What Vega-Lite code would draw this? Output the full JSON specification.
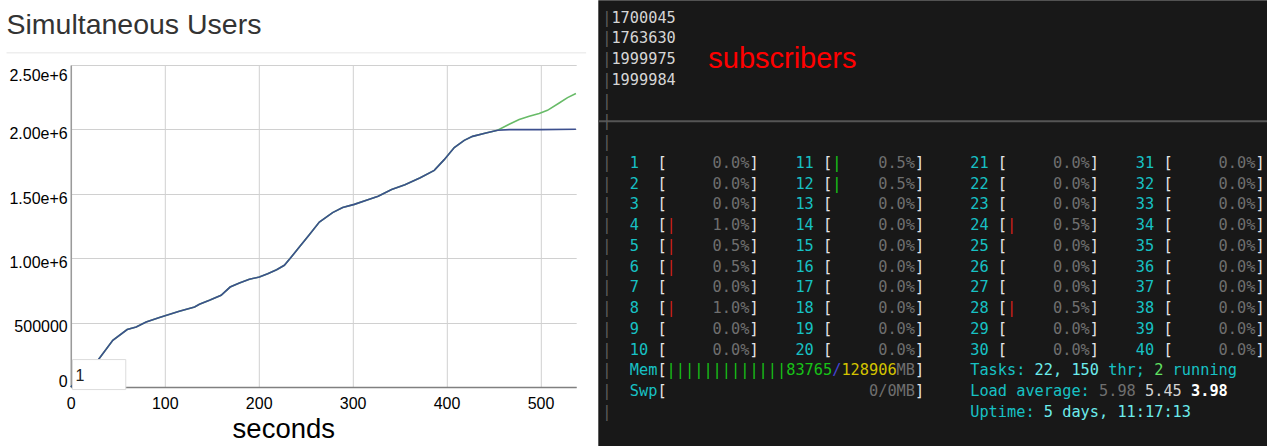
{
  "$schema": "https://vega.github.io/schema/vega-lite/v6.json",
  "background": "white",
  "padding": {"left": 4.8, "top": 0, "right": 0, "bottom": 0},
  "spacing": 9.5,
  "config": {
    "font": "Liberation Sans",
    "view": {"stroke": null},
    "axis": {"labelFont": "Liberation Sans", "titleFont": "Liberation Sans"}
  },
  "datasets": {
    "users": [
      {"t": 0, "users": 0, "series": "Series 2"},
      {"t": 29.5, "users": 213000, "series": "Series 2"},
      {"t": 44.7, "users": 363000, "series": "Series 2"},
      {"t": 60, "users": 446000, "series": "Series 2"},
      {"t": 69.6, "users": 466000, "series": "Series 2"},
      {"t": 80.2, "users": 505000, "series": "Series 2"},
      {"t": 94.4, "users": 539000, "series": "Series 2"},
      {"t": 115.5, "users": 588000, "series": "Series 2"},
      {"t": 131.8, "users": 621000, "series": "Series 2"},
      {"t": 136.9, "users": 642000, "series": "Series 2"},
      {"t": 147.6, "users": 673000, "series": "Series 2"},
      {"t": 160, "users": 712000, "series": "Series 2"},
      {"t": 169.6, "users": 776000, "series": "Series 2"},
      {"t": 179.5, "users": 807000, "series": "Series 2"},
      {"t": 190.1, "users": 836000, "series": "Series 2"},
      {"t": 200.7, "users": 854000, "series": "Series 2"},
      {"t": 209.6, "users": 880000, "series": "Series 2"},
      {"t": 219.1, "users": 911000, "series": "Series 2"},
      {"t": 227.3, "users": 945000, "series": "Series 2"},
      {"t": 233.4, "users": 997000, "series": "Series 2"},
      {"t": 243.3, "users": 1087000, "series": "Series 2"},
      {"t": 253.9, "users": 1183000, "series": "Series 2"},
      {"t": 264.6, "users": 1281000, "series": "Series 2"},
      {"t": 278.7, "users": 1354000, "series": "Series 2"},
      {"t": 289.4, "users": 1393000, "series": "Series 2"},
      {"t": 301.8, "users": 1418000, "series": "Series 2"},
      {"t": 317.8, "users": 1457000, "series": "Series 2"},
      {"t": 327.2, "users": 1481000, "series": "Series 2"},
      {"t": 341.5, "users": 1533000, "series": "Series 2"},
      {"t": 355.7, "users": 1571000, "series": "Series 2"},
      {"t": 372, "users": 1624000, "series": "Series 2"},
      {"t": 386.9, "users": 1682000, "series": "Series 2"},
      {"t": 397.5, "users": 1765000, "series": "Series 2"},
      {"t": 408.2, "users": 1859000, "series": "Series 2"},
      {"t": 418.8, "users": 1915000, "series": "Series 2"},
      {"t": 427.7, "users": 1946000, "series": "Series 2"},
      {"t": 441.9, "users": 1972000, "series": "Series 2"},
      {"t": 454.3, "users": 1993000, "series": "Series 2"},
      {"t": 466.7, "users": 2040000, "series": "Series 2"},
      {"t": 477.3, "users": 2076000, "series": "Series 2"},
      {"t": 488, "users": 2102000, "series": "Series 2"},
      {"t": 498.6, "users": 2123000, "series": "Series 2"},
      {"t": 507.4, "users": 2148000, "series": "Series 2"},
      {"t": 519.9, "users": 2205000, "series": "Series 2"},
      {"t": 528.8, "users": 2247000, "series": "Series 2"},
      {"t": 537.7, "users": 2278000, "series": "Series 2"},
      {"t": 0, "users": 0, "series": "Series 1"},
      {"t": 29.5, "users": 213000, "series": "Series 1"},
      {"t": 44.7, "users": 363000, "series": "Series 1"},
      {"t": 60, "users": 446000, "series": "Series 1"},
      {"t": 69.6, "users": 466000, "series": "Series 1"},
      {"t": 80.2, "users": 505000, "series": "Series 1"},
      {"t": 94.4, "users": 539000, "series": "Series 1"},
      {"t": 115.5, "users": 588000, "series": "Series 1"},
      {"t": 131.8, "users": 621000, "series": "Series 1"},
      {"t": 136.9, "users": 642000, "series": "Series 1"},
      {"t": 147.6, "users": 673000, "series": "Series 1"},
      {"t": 160, "users": 712000, "series": "Series 1"},
      {"t": 169.6, "users": 776000, "series": "Series 1"},
      {"t": 179.5, "users": 807000, "series": "Series 1"},
      {"t": 190.1, "users": 836000, "series": "Series 1"},
      {"t": 200.7, "users": 854000, "series": "Series 1"},
      {"t": 209.6, "users": 880000, "series": "Series 1"},
      {"t": 219.1, "users": 911000, "series": "Series 1"},
      {"t": 227.3, "users": 945000, "series": "Series 1"},
      {"t": 233.4, "users": 997000, "series": "Series 1"},
      {"t": 243.3, "users": 1087000, "series": "Series 1"},
      {"t": 253.9, "users": 1183000, "series": "Series 1"},
      {"t": 264.6, "users": 1281000, "series": "Series 1"},
      {"t": 278.7, "users": 1354000, "series": "Series 1"},
      {"t": 289.4, "users": 1393000, "series": "Series 1"},
      {"t": 301.8, "users": 1418000, "series": "Series 1"},
      {"t": 317.8, "users": 1457000, "series": "Series 1"},
      {"t": 327.2, "users": 1481000, "series": "Series 1"},
      {"t": 341.5, "users": 1533000, "series": "Series 1"},
      {"t": 355.7, "users": 1571000, "series": "Series 1"},
      {"t": 372, "users": 1624000, "series": "Series 1"},
      {"t": 386.9, "users": 1682000, "series": "Series 1"},
      {"t": 397.5, "users": 1765000, "series": "Series 1"},
      {"t": 408.2, "users": 1859000, "series": "Series 1"},
      {"t": 418.8, "users": 1915000, "series": "Series 1"},
      {"t": 427.7, "users": 1946000, "series": "Series 1"},
      {"t": 441.9, "users": 1972000, "series": "Series 1"},
      {"t": 454.3, "users": 1993000, "series": "Series 1"},
      {"t": 466.7, "users": 1998000, "series": "Series 1"},
      {"t": 500, "users": 1998000, "series": "Series 1"},
      {"t": 537.7, "users": 2001000, "series": "Series 1"}
    ],
    "cpus": [
      {"cpu": "1", "line": 7, "col": 0, "pct": "0.0%"},
      {"cpu": "2", "line": 8, "col": 0, "pct": "0.0%"},
      {"cpu": "3", "line": 9, "col": 0, "pct": "0.0%"},
      {"cpu": "4", "line": 10, "col": 0, "pct": "1.0%", "bar": "red"},
      {"cpu": "5", "line": 11, "col": 0, "pct": "0.5%", "bar": "red"},
      {"cpu": "6", "line": 12, "col": 0, "pct": "0.5%", "bar": "red"},
      {"cpu": "7", "line": 13, "col": 0, "pct": "0.0%"},
      {"cpu": "8", "line": 14, "col": 0, "pct": "1.0%", "bar": "red"},
      {"cpu": "9", "line": 15, "col": 0, "pct": "0.0%"},
      {"cpu": "10", "line": 16, "col": 0, "pct": "0.0%"},
      {"cpu": "11", "line": 7, "col": 18, "pct": "0.5%", "bar": "green"},
      {"cpu": "12", "line": 8, "col": 18, "pct": "0.5%", "bar": "green"},
      {"cpu": "13", "line": 9, "col": 18, "pct": "0.0%"},
      {"cpu": "14", "line": 10, "col": 18, "pct": "0.0%"},
      {"cpu": "15", "line": 11, "col": 18, "pct": "0.0%"},
      {"cpu": "16", "line": 12, "col": 18, "pct": "0.0%"},
      {"cpu": "17", "line": 13, "col": 18, "pct": "0.0%"},
      {"cpu": "18", "line": 14, "col": 18, "pct": "0.0%"},
      {"cpu": "19", "line": 15, "col": 18, "pct": "0.0%"},
      {"cpu": "20", "line": 16, "col": 18, "pct": "0.0%"},
      {"cpu": "21", "line": 7, "col": 37, "pct": "0.0%"},
      {"cpu": "22", "line": 8, "col": 37, "pct": "0.0%"},
      {"cpu": "23", "line": 9, "col": 37, "pct": "0.0%"},
      {"cpu": "24", "line": 10, "col": 37, "pct": "0.5%", "bar": "red"},
      {"cpu": "25", "line": 11, "col": 37, "pct": "0.0%"},
      {"cpu": "26", "line": 12, "col": 37, "pct": "0.0%"},
      {"cpu": "27", "line": 13, "col": 37, "pct": "0.0%"},
      {"cpu": "28", "line": 14, "col": 37, "pct": "0.5%", "bar": "red"},
      {"cpu": "29", "line": 15, "col": 37, "pct": "0.0%"},
      {"cpu": "30", "line": 16, "col": 37, "pct": "0.0%"},
      {"cpu": "31", "line": 7, "col": 55, "pct": "0.0%"},
      {"cpu": "32", "line": 8, "col": 55, "pct": "0.0%"},
      {"cpu": "33", "line": 9, "col": 55, "pct": "0.0%"},
      {"cpu": "34", "line": 10, "col": 55, "pct": "0.0%"},
      {"cpu": "35", "line": 11, "col": 55, "pct": "0.0%"},
      {"cpu": "36", "line": 12, "col": 55, "pct": "0.0%"},
      {"cpu": "37", "line": 13, "col": 55, "pct": "0.0%"},
      {"cpu": "38", "line": 14, "col": 55, "pct": "0.0%"},
      {"cpu": "39", "line": 15, "col": 55, "pct": "0.0%"},
      {"cpu": "40", "line": 16, "col": 55, "pct": "0.0%"}
    ],
    "screen": [
      {"line": 0, "col": -3, "text": "|", "style": "border"},
      {"line": 1, "col": -3, "text": "|", "style": "border"},
      {"line": 2, "col": -3, "text": "|", "style": "border"},
      {"line": 3, "col": -3, "text": "|", "style": "border"},
      {"line": 4, "col": -3, "text": "|", "style": "border"},
      {"line": 5, "col": -3, "text": "|", "style": "border"},
      {"line": 6, "col": -3, "text": "|", "style": "border"},
      {"line": 7, "col": -3, "text": "|", "style": "border"},
      {"line": 8, "col": -3, "text": "|", "style": "border"},
      {"line": 9, "col": -3, "text": "|", "style": "border"},
      {"line": 10, "col": -3, "text": "|", "style": "border"},
      {"line": 11, "col": -3, "text": "|", "style": "border"},
      {"line": 12, "col": -3, "text": "|", "style": "border"},
      {"line": 13, "col": -3, "text": "|", "style": "border"},
      {"line": 14, "col": -3, "text": "|", "style": "border"},
      {"line": 15, "col": -3, "text": "|", "style": "border"},
      {"line": 16, "col": -3, "text": "|", "style": "border"},
      {"line": 17, "col": -3, "text": "|", "style": "border"},
      {"line": 18, "col": -3, "text": "|", "style": "border"},
      {"line": 19, "col": -3, "text": "|", "style": "border"},
      {"line": 0, "col": -2, "text": "1700045", "style": "number"},
      {"line": 1, "col": -2, "text": "1763630", "style": "number"},
      {"line": 2, "col": -2, "text": "1999975", "style": "number"},
      {"line": 3, "col": -2, "text": "1999984", "style": "number"},
      {"line": 2, "col": 8.53, "text": "subscribers", "style": "note"},
      {"line": 17, "col": 0, "text": "Mem", "style": "label"},
      {"line": 17, "col": 3, "text": "[", "style": "bracket"},
      {"line": 17, "col": 4, "text": "|||||||||||||", "style": "green"},
      {"line": 17, "col": 17, "text": "83765", "style": "green"},
      {"line": 17, "col": 22, "text": "/", "style": "blue"},
      {"line": 17, "col": 23, "text": "128906", "style": "yellow"},
      {"line": 17, "col": 29, "text": "MB", "style": "dim"},
      {"line": 17, "col": 31, "text": "]", "style": "bracket"},
      {"line": 18, "col": 0, "text": "Swp", "style": "label"},
      {"line": 18, "col": 3, "text": "[", "style": "bracket"},
      {"line": 18, "col": 26, "text": "0/0MB", "style": "dim"},
      {"line": 18, "col": 31, "text": "]", "style": "bracket"},
      {"line": 17, "col": 37, "text": "Tasks:", "style": "label"},
      {"line": 17, "col": 44, "text": "22, 150", "style": "value"},
      {"line": 17, "col": 52, "text": "thr;", "style": "label"},
      {"line": 17, "col": 57, "text": "2", "style": "brightgreen"},
      {"line": 17, "col": 59, "text": "running", "style": "label"},
      {"line": 18, "col": 37, "text": "Load average:", "style": "label"},
      {"line": 18, "col": 51, "text": "5.98", "style": "dim"},
      {"line": 18, "col": 56, "text": "5.45", "style": "light"},
      {"line": 18, "col": 61, "text": "3.98", "style": "bold"},
      {"line": 19, "col": 37, "text": "Uptime:", "style": "label"},
      {"line": 19, "col": 45, "text": "5 days, 11:17:13", "style": "value"}
    ]
  },
  "hconcat": [
    {
      "width": 505.4,
      "height": 322,
      "title": {
        "text": ["", "Simultaneous Users"],
        "anchor": "start",
        "frame": "group",
        "dx": -64.3,
        "offset": -10.6,
        "baseline": "alphabetic",
        "lineHeight": 10.2,
        "font": "Liberation Sans",
        "fontSize": 28.5,
        "fontWeight": "normal",
        "color": "#333333"
      },
      "layer": [
        {
          "data": {"name": "users"},
          "transform": [{"filter": "datum.series == 'Series 2'"}],
          "mark": {"type": "line", "color": "#68bb68", "strokeWidth": 1.6},
          "encoding": {
            "x": {
              "field": "t",
              "type": "quantitative",
              "scale": {"domain": [0, 538], "nice": false, "zero": false},
              "axis": {
                "values": [0, 100, 200, 300, 400, 500],
                "grid": true,
                "gridColor": "#d0d0d0",
                "gridWidth": 1,
                "domainColor": "#808080",
                "domainWidth": 1.5,
                "ticks": false,
                "labelFontSize": 16,
                "labelColor": "#000000",
                "labelPadding": 9,
                "labelFlush": false,
                "title": "seconds",
                "titleFontSize": 27.5,
                "titleFontWeight": "normal",
                "titleColor": "#000000",
                "titleX": 212.5,
                "titleY": 50.6,
                "titleBaseline": "alphabetic",
                "titleAlign": "center"
              }
            },
            "y": {
              "field": "users",
              "type": "quantitative",
              "scale": {"domain": [0, 2500000], "nice": false, "zero": false},
              "axis": {
                "values": [0, 500000, 1000000, 1500000, 2000000, 2500000],
                "labelExpr": "datum.value < 1000000 ? format(datum.value, 'd') : format(datum.value, '.2e')",
                "grid": true,
                "gridColor": "#d0d0d0",
                "gridWidth": 1,
                "domainColor": "#9a9a9a",
                "domainWidth": 1.5,
                "ticks": false,
                "labelFontSize": 16,
                "labelColor": "#000000",
                "labelPadding": 3.6,
                "labelFlush": false,
                "labelBaseline": "middle",
                "labelOffset": {
                  "condition": [
                    {"test": "datum.value == 0", "value": -5},
                    {"test": "datum.value == 2500000", "value": 10.3}
                  ],
                  "value": 4.3
                },
                "title": null
              }
            }
          }
        },
        {
          "data": {"name": "users"},
          "transform": [{"filter": "datum.series == 'Series 1'"}],
          "mark": {"type": "line", "color": "#3c4f8e", "strokeWidth": 1.6},
          "encoding": {
            "x": {"field": "t", "type": "quantitative"},
            "y": {"field": "users", "type": "quantitative"}
          }
        },
        {
          "data": {"values": [{}]},
          "mark": {"type": "rule", "color": "#eeeeee", "strokeWidth": 1.5},
          "encoding": {
            "x": {"datum": -68.4, "type": "quantitative"},
            "x2": {"datum": 548.6},
            "y": {"datum": 2596000, "type": "quantitative"}
          }
        },
        {
          "data": {"values": [{}]},
          "mark": {"type": "rect", "fill": "#ffffff", "stroke": "#dcdcdc", "strokeWidth": 1},
          "encoding": {
            "x": {"datum": 1.8, "type": "quantitative"},
            "x2": {"datum": 58.5},
            "y": {"datum": 213000, "type": "quantitative"},
            "y2": {"datum": -20000}
          }
        },
        {
          "data": {"values": [{"roll": "1"}]},
          "mark": {"type": "text", "align": "left", "baseline": "alphabetic", "fontSize": 16, "font": "Liberation Sans", "color": "#222222"},
          "encoding": {
            "x": {"datum": 5, "type": "quantitative"},
            "y": {"datum": 47000, "type": "quantitative"},
            "text": {"field": "roll"}
          }
        }
      ]
    },
    {
      "width": 669,
      "height": 381.3,
      "view": {"stroke": null},
      "resolve": {"scale": {"color": "independent"}},
      "layer": [
        {
          "data": {"values": [{}]},
          "mark": {"type": "rect", "color": "#181818"},
          "encoding": {
            "x": {"datum": -3.424, "type": "quantitative", "scale": {"domain": [-3.424, 69.293], "nice": false, "zero": false}, "axis": null},
            "x2": {"datum": 69.293},
            "y": {"datum": -0.834, "type": "quantitative", "scale": {"domain": [2.284, 20.66], "reverse": true, "nice": false, "zero": false}, "axis": null},
            "y2": {"datum": 20.66}
          }
        },
        {
          "data": {"values": [{}]},
          "mark": {"type": "rule", "color": "#555555", "strokeWidth": 2},
          "encoding": {
            "y": {"datum": 5, "type": "quantitative"}
          }
        },
        {
          "data": {"name": "screen"},
          "transform": [{"filter": "datum.style != 'bold' && datum.style != 'note'"}],
          "mark": {"type": "text", "align": "left", "baseline": "middle", "font": "DejaVu Sans Mono", "fontSize": 15.3},
          "encoding": {
            "x": {"field": "col", "type": "quantitative"},
            "y": {"field": "line", "type": "quantitative"},
            "text": {"field": "text"},
            "color": {
              "field": "style",
              "type": "nominal",
              "legend": null,
              "scale": {
                "domain": ["border", "number", "label", "value", "bracket", "dim", "green", "brightgreen", "blue", "yellow", "light"],
                "range": ["#5c5c5c", "#d6d6d6", "#17c1c4", "#6cecec", "#e6e6e6", "#6f6f6f", "#17c217", "#62e262", "#4444d4", "#d4c400", "#d2d2d2"]
              }
            }
          }
        },
        {
          "data": {"name": "screen"},
          "transform": [{"filter": "datum.style == 'bold'"}],
          "mark": {"type": "text", "align": "left", "baseline": "middle", "font": "DejaVu Sans Mono", "fontSize": 15.3, "fontWeight": "bold", "color": "#ffffff"},
          "encoding": {
            "x": {"field": "col", "type": "quantitative"},
            "y": {"field": "line", "type": "quantitative"},
            "text": {"field": "text"}
          }
        },
        {
          "data": {"name": "screen"},
          "transform": [{"filter": "datum.style == 'note'"}],
          "mark": {"type": "text", "align": "left", "baseline": "middle", "font": "Liberation Sans", "fontSize": 29, "color": "#ff0000"},
          "encoding": {
            "x": {"field": "col", "type": "quantitative"},
            "y": {"field": "line", "type": "quantitative"},
            "text": {"field": "text"}
          }
        },
        {
          "data": {"name": "cpus"},
          "mark": {"type": "text", "align": "left", "baseline": "middle", "font": "DejaVu Sans Mono", "fontSize": 15.3, "color": "#17c1c4"},
          "encoding": {
            "x": {"field": "col", "type": "quantitative"},
            "y": {"field": "line", "type": "quantitative"},
            "text": {"field": "cpu"}
          }
        },
        {
          "data": {"name": "cpus"},
          "mark": {"type": "text", "align": "left", "baseline": "middle", "font": "DejaVu Sans Mono", "fontSize": 15.3, "color": "#e6e6e6", "dx": 27.6, "text": "["},
          "encoding": {
            "x": {"field": "col", "type": "quantitative"},
            "y": {"field": "line", "type": "quantitative"}
          }
        },
        {
          "data": {"name": "cpus"},
          "transform": [{"filter": "isValid(datum.bar)"}],
          "mark": {"type": "text", "align": "left", "baseline": "middle", "font": "DejaVu Sans Mono", "fontSize": 15.3, "dx": 36.8, "text": "|"},
          "encoding": {
            "x": {"field": "col", "type": "quantitative"},
            "y": {"field": "line", "type": "quantitative"},
            "color": {"field": "bar", "type": "nominal", "legend": null, "scale": {"domain": ["red", "green"], "range": ["#d0201a", "#17c917"]}}
          }
        },
        {
          "data": {"name": "cpus"},
          "mark": {"type": "text", "align": "left", "baseline": "middle", "font": "DejaVu Sans Mono", "fontSize": 15.3, "color": "#6f6f6f", "dx": 82.8},
          "encoding": {
            "x": {"field": "col", "type": "quantitative"},
            "y": {"field": "line", "type": "quantitative"},
            "text": {"field": "pct"}
          }
        },
        {
          "data": {"name": "cpus"},
          "mark": {"type": "text", "align": "left", "baseline": "middle", "font": "DejaVu Sans Mono", "fontSize": 15.3, "color": "#e6e6e6", "dx": 119.6, "text": "]"},
          "encoding": {
            "x": {"field": "col", "type": "quantitative"},
            "y": {"field": "line", "type": "quantitative"}
          }
        }
      ]
    }
  ]
}
